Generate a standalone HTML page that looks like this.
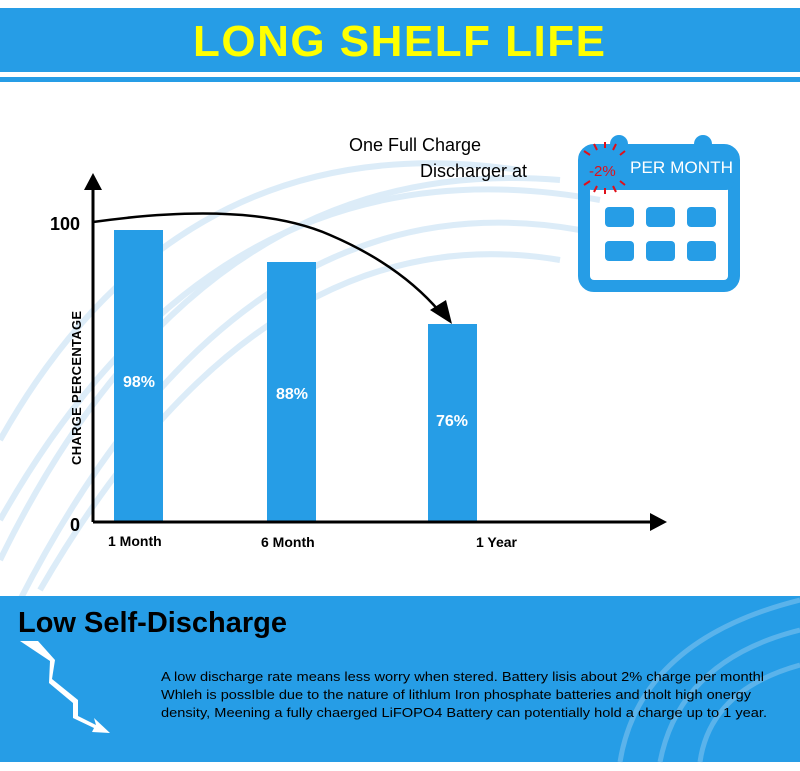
<!DOCTYPE html>
<html><head><style>
body{margin:0;width:800px;height:771px;background:#fff;position:relative;overflow:hidden;font-family:"Liberation Sans",sans-serif}
.abs{position:absolute}
</style></head><body>
<svg class="abs" style="left:0;top:0" width="800" height="771">
<g fill="none" stroke="#c5e1f5" stroke-width="6" opacity="0.6">
<path d="M0 560 Q200 150 560 180"/><path d="M0 520 Q220 130 600 200"/><path d="M20 600 Q240 170 580 230"/><path d="M0 440 Q180 120 520 170"/><path d="M40 590 Q260 210 560 260"/>
</g>
<rect x="0" y="8" width="800" height="64" fill="#269de6"/>
<rect x="0" y="77" width="800" height="5" fill="#269de6"/>
<text x="193" y="56" font-size="44" font-weight="bold" fill="#ffff00" textLength="412" lengthAdjust="spacing" font-family="Liberation Sans">LONG SHELF LIFE</text>
<g fill="#269de6"><rect x="114" y="230" width="49" height="291"/><rect x="267" y="262" width="49" height="259"/><rect x="428" y="324" width="49" height="197"/></g>
<g fill="#fff" font-weight="bold" font-size="16" text-anchor="middle">
<text x="139" y="387">98%</text><text x="292" y="399">88%</text><text x="452" y="426">76%</text></g>
<path d="M93 522 V185 M93 522 H655" stroke="#000" stroke-width="3" fill="none"/>
<path d="M84 190 L93 173 L102 190Z M650 513 L667 522 L650 531Z" fill="#000"/>
<text x="50" y="230" font-size="18" font-weight="bold">100</text>
<text x="70" y="531" font-size="18" font-weight="bold">0</text>
<text transform="translate(81 465) rotate(-90)" font-size="13" font-weight="bold" letter-spacing="0.3">CHARGE PERCENTAGE</text>
<g font-size="14" font-weight="bold"><text x="108" y="546">1 Month</text><text x="261" y="547">6 Month</text><text x="476" y="547">1 Year</text></g>
<path d="M93 222 Q250 200 330 235 Q400 265 440 312" stroke="#000" stroke-width="2.5" fill="none"/>
<path d="M430 310 L452 324 L446 300Z" fill="#000"/>
<text x="349" y="151" font-size="18">One Full Charge</text>
<text x="420" y="177" font-size="18">Discharger at</text>
<rect x="584" y="150" width="150" height="136" rx="10" fill="none" stroke="#269de6" stroke-width="12"/>
<rect x="584" y="150" width="150" height="40" rx="8" fill="#269de6"/>
<rect x="610" y="135" width="18" height="30" rx="9" fill="#269de6"/><rect x="694" y="135" width="18" height="30" rx="9" fill="#269de6"/>
<text x="630" y="173" font-size="17" fill="#fff" textLength="103" lengthAdjust="spacingAndGlyphs">PER MONTH</text>
<text x="589" y="176" font-size="15" fill="#e0101a">-2%</text>
<g stroke="#e0101a" stroke-width="2"><path d="M590 155 l-6 -4 M597 150 l-3 -6 M605 148 l0 -6 M613 150 l3 -6 M620 155 l5 -4 M590 181 l-6 4 M597 186 l-3 6 M605 188 l0 6 M613 186 l3 6 M620 181 l5 4"/></g>
<g fill="#269de6"><rect x="605" y="207" width="29" height="20" rx="4"/><rect x="646" y="207" width="29" height="20" rx="4"/><rect x="687" y="207" width="29" height="20" rx="4"/><rect x="605" y="241" width="29" height="20" rx="4"/><rect x="646" y="241" width="29" height="20" rx="4"/><rect x="687" y="241" width="29" height="20" rx="4"/></g>
<rect x="0" y="596" width="800" height="166" fill="#269de6"/>
<g fill="none" stroke="#8fcaf0" stroke-width="5" opacity="0.5"><path d="M620 762 Q640 640 800 600"/><path d="M660 762 Q680 660 800 630"/><path d="M700 762 Q710 690 800 665"/></g>
<text x="18" y="632" font-size="29" font-weight="bold" fill="#000" textLength="269" lengthAdjust="spacingAndGlyphs">Low Self-Discharge</text>
<path d="M20 641 L38 641 L55 660 L52 679 L78 700 L78 716 L96 725 L94 718 L110 733 L92 732 L94 728 L73 718 L73 703 L49 683 L50 661Z" fill="#fff"/>
<g font-size="13" fill="#000"><text x="161" y="681" textLength="603" lengthAdjust="spacingAndGlyphs">A low discharge rate means less worry when stered. Battery lisis about 2% charge per monthl</text>
<text x="161" y="699" textLength="590" lengthAdjust="spacingAndGlyphs">Whleh is possIble due to the nature of lithlum Iron phosphate batteries and tholt high onergy</text>
<text x="161" y="717" textLength="606" lengthAdjust="spacingAndGlyphs">density, Meening a fully chaerged LiFOPO4 Battery can potentially hold a charge up to 1 year.</text></g>
</svg>
</body></html>
